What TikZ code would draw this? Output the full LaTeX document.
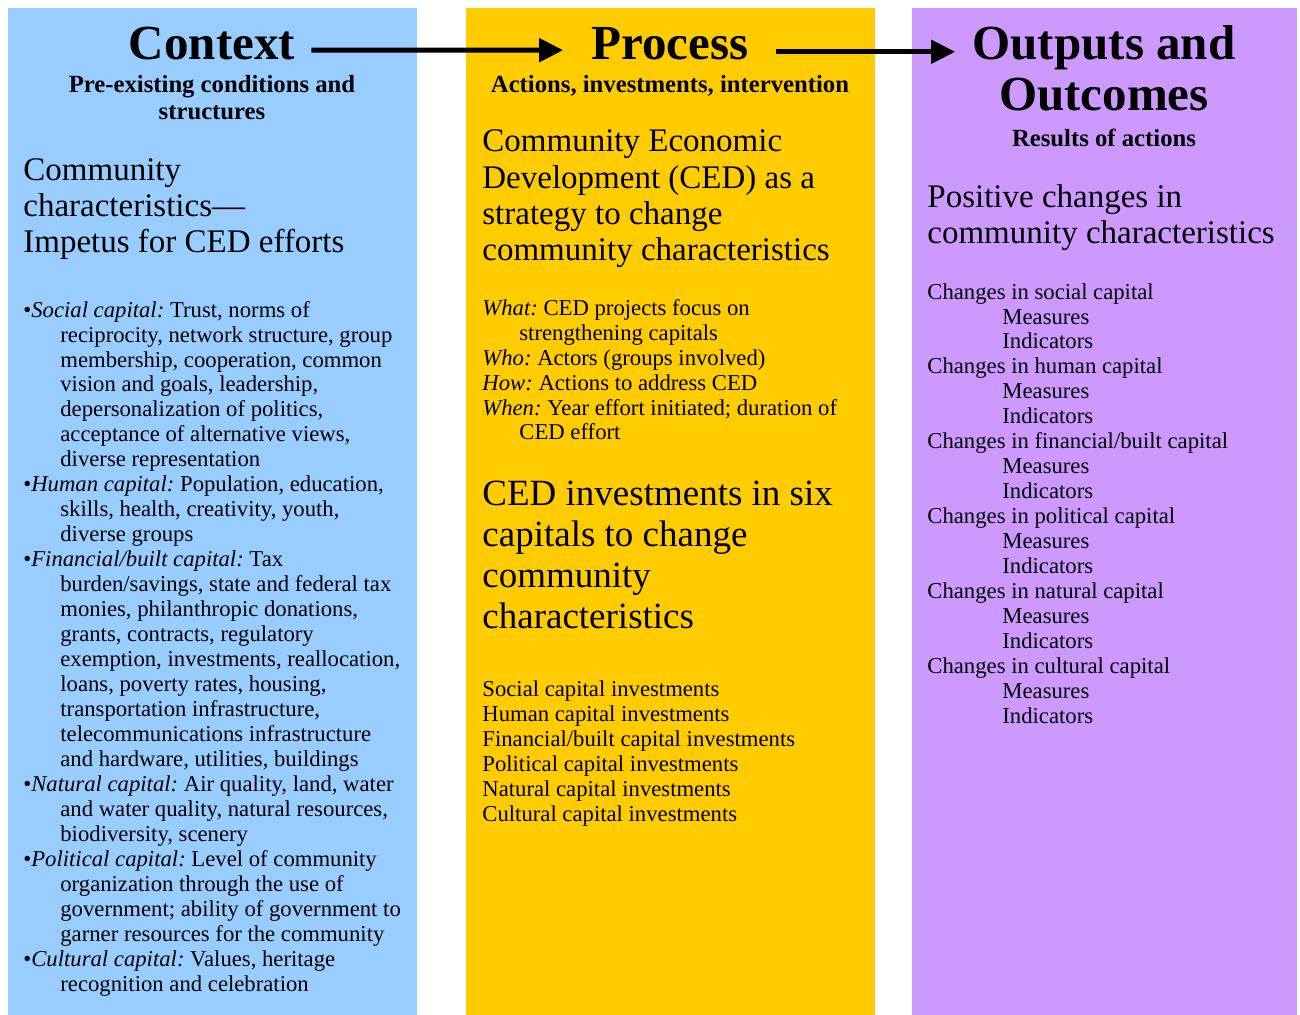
\documentclass[tikz,border=0pt]{standalone}
\usepackage{fontspec}
\setmainfont{Liberation Serif}
\usetikzlibrary{arrows.meta,positioning,calc}
\definecolor{ctxblue}{RGB}{153,204,255}
\definecolor{procgold}{RGB}{255,204,0}
\definecolor{outlilac}{RGB}{204,153,255}

\begin{document}
\frenchspacing
\begin{tikzpicture}[x=0.5pt, y=-0.5pt,
  colbox/.style={fill=#1, draw=none},
  headtxt/.style={inner sep=0pt, anchor=base, align=center, font=\fontsize{24.5pt}{25.5pt}\selectfont\bfseries},
  subtxt/.style={inner sep=0pt, anchor=base, align=center, font=\fontsize{12.35pt}{13.5pt}\selectfont\bfseries},
  leadtxt/.style={inner sep=0pt, anchor=base west, align=left, font=\fontsize{16.5pt}{18.2pt}\selectfont},
  bigtxt/.style={inner sep=0pt, anchor=base west, align=left, font=\fontsize{18.5pt}{20.5pt}\selectfont},
  listtxt/.style={inner sep=0pt, anchor=base west, align=left, font=\fontsize{11.35pt}{12.48pt}\selectfont},
  flow/.style={line width=2.5pt, -{Triangle[length=12pt,width=11.5pt]}}]
\useasboundingbox (0,0) rectangle (1300,1015);
\def\hang{\hspace*{18.5pt}}

% three column backgrounds
\fill[colbox=ctxblue] (8,8) rectangle (417,1015);
\fill[colbox=procgold] (466,8) rectangle (875,1015);
\fill[colbox=outlilac] (912,8) rectangle (1297,1015);

% headings (multi-line nodes sit on the baseline of their last line)
\node[headtxt] (ctx) at (212,60) {Context};
\node[headtxt] (proc) at (670,60) {Process};
\node[headtxt] (outc) at (1104,111) {Outputs and\\Outcomes};
\node[subtxt] (ctxsub) at (212,120) {Pre-existing conditions and\\structures};
\node[subtxt] (procsub) at (670,93) {Actions, investments, intervention};
\node[subtxt] (outcsub) at (1104,147) {Results of actions};

\draw[flow, shorten <=8pt, shorten >=14pt] ([yshift=-3pt]ctx.east) -- ([yshift=-3pt]proc.west);
\draw[flow, shorten <=13.5pt, shorten >=8.5pt] ([yshift=-3.8pt]proc.east) -- ($(proc.east -| outc.west)+(0,7.6)$);

% context column
\node[leadtxt] (ctxlead) at (23,253) {Community\\characteristics---\\Impetus for CED efforts};
\node[listtxt] (ctxlist) at (23,991) {%
  •\textit{Social capital:} Trust, norms of\\
  \hang reciprocity, network structure, group\\
  \hang membership, cooperation, common\\
  \hang vision and goals, leadership,\\
  \hang depersonalization of politics,\\
  \hang acceptance of alternative views,\\
  \hang diverse representation\\
  •\textit{Human capital:} Population, education,\\
  \hang skills, health, creativity, youth,\\
  \hang diverse groups\\
  •\textit{Financial/built capital:} Tax\\
  \hang burden/savings, state and federal tax\\
  \hang monies, philanthropic donations,\\
  \hang grants, contracts, regulatory\\
  \hang exemption, investments, reallocation,\\
  \hang loans, poverty rates, housing,\\
  \hang transportation infrastructure,\\
  \hang telecommunications infrastructure\\
  \hang and hardware, utilities, buildings\\
  •\textit{Natural capital:} Air quality, land, water\\
  \hang and water quality, natural resources,\\
  \hang biodiversity, scenery\\
  •\textit{Political capital:} Level of community\\
  \hang organization through the use of\\
  \hang government; ability of government to\\
  \hang garner resources for the community\\
  •\textit{Cultural capital:} Values, heritage\\
  \hang recognition and celebration};

% process column
\node[leadtxt] (proclead) at (482,261) {Community Economic\\Development (CED) as a\\strategy to change\\community characteristics};
\node[listtxt] (proclist) at (482,440) {%
  \textit{What:} CED projects focus on\\
  \hang strengthening capitals\\
  \textit{Who:} Actors (groups involved)\\
  \textit{How:} Actions to address CED\\
  \textit{When:} Year effort initiated; duration of\\
  \hang CED effort};
\node[bigtxt] (procinvest) at (482,628) {CED investments in six\\capitals to change\\community\\characteristics};
\foreach \cap [count=\i] in {Social, Human, Financial/built, Political, Natural, Cultural}
  \node[listtxt] (inv\i) at (482,{696+(\i-1)*25}) {\cap{} capital investments};

% outputs column
\node[leadtxt] (outclead) at (927,244) {Positive changes in\\community characteristics};
\foreach \cap [count=\i] in {social, human, financial/built, political, natural, cultural}
  \node[listtxt] (chg\i) at (927,{349+(\i-1)*74.9}) {Changes in \cap{} capital\\\hspace*{37.5pt}Measures\\\hspace*{37.5pt}Indicators};
\end{tikzpicture}
\end{document}
